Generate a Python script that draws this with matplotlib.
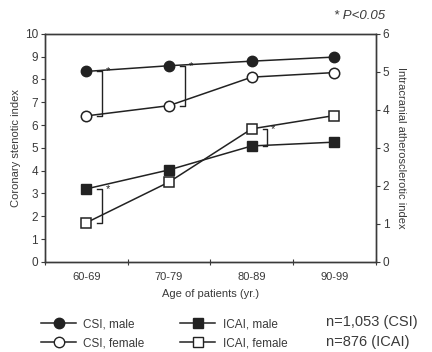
import matplotlib.pyplot as plt
from matplotlib.lines import Line2D

plt.rcParams['font.family'] = ['Liberation Sans', 'DejaVu Sans']

grupos = ['60-69', '70-79', '80-89', '90-99']
csi_hombre = [8.35, 8.6, 8.8, 8.98]
csi_mujer = [6.4, 6.85, 8.1, 8.3]
icai_hombre = [1.92, 2.42, 3.05, 3.15]
icai_mujer = [1.03, 2.1, 3.5, 3.85]

gris = '#3a3a3a'
linea = '#222222'

fig = plt.figure(figsize=(4.32, 3.52), dpi=100)
ax = fig.add_axes([0.104, 0.256, 0.766, 0.648])
ax2 = ax.twinx()

x = list(range(len(grupos)))

ax.plot(x, csi_hombre, '-o', color=linea, mfc=linea, mec=linea, ms=7.5, lw=1.1)
ax.plot(x, csi_mujer, '-o', color=linea, mfc='white', mec=linea, ms=7.5, lw=1.1, mew=1.1)
ax2.plot(x, icai_hombre, '-s', color=linea, mfc=linea, mec=linea, ms=7, lw=1.1)
ax2.plot(x, icai_mujer, '-s', color=linea, mfc='white', mec=linea, ms=7, lw=1.1, mew=1.1)

ax.set_xlim(-0.5, 3.5)
ax.set_ylim(0, 10)
ax2.set_ylim(0, 6)
ax.set_yticks(range(0, 11))
ax2.set_yticks(range(0, 7))

# ticks at category boundaries, labels at centers
ax.set_xticks([-0.5, 0.5, 1.5, 2.5, 3.5])
ax.set_xticklabels([])
ax.set_xticks(x, minor=True)
ax.set_xticklabels(grupos, minor=True)
ax.tick_params(axis='x', which='minor', length=0, pad=7)
ax.tick_params(axis='x', which='major', length=4, direction='inout', color=gris)

for a in (ax, ax2):
    a.tick_params(axis='y', length=3, direction='out', colors=gris, labelsize=8.5, pad=2)
    for s in a.spines.values():
        s.set_color(gris)
        s.set_linewidth(1.0)
ax.tick_params(axis='x', which='both', labelsize=8, colors=gris)

ax.set_xlabel('Age of patients (yr.)', fontsize=8, color=gris, labelpad=5)
ax.set_ylabel('Coronary stenotic index', fontsize=8, color=gris, labelpad=3)
ax2.set_ylabel('Intracranial atherosclerotic index', fontsize=8, color=gris,
               rotation=-90, labelpad=12)


def corchete(a, xi, y1, y2, dx=0.19, ancho=0.06):
    xb = xi + dx
    a.plot([xb - ancho, xb, xb, xb - ancho], [y1, y1, y2, y2], color=linea, lw=1.0)
    a.text(xb + 0.07, y1, '*', fontsize=8, color=linea, ha='center', va='center')


corchete(ax, 0, csi_hombre[0], csi_mujer[0])
corchete(ax, 1, csi_hombre[1], csi_mujer[1])
corchete(ax2, 0, icai_hombre[0], icai_mujer[0])
corchete(ax2, 2, icai_mujer[2], icai_hombre[2])

fig.text(0.892, 0.945, '* P<0.05', fontsize=9.5, style='italic', color=gris, ha='right')

manejadores = [
    Line2D([], [], color=linea, marker='o', mfc=linea, ms=7.5, lw=1.1),
    Line2D([], [], color=linea, marker='o', mfc='white', ms=7.5, lw=1.1),
    Line2D([], [], color=linea, marker='s', mfc=linea, ms=7, lw=1.1),
    Line2D([], [], color=linea, marker='s', mfc='white', ms=7, lw=1.1),
]
etiquetas = ['CSI, male', 'CSI, female', 'ICAI, male', 'ICAI, female']
fig.legend(manejadores, etiquetas, ncol=2, loc='lower left', bbox_to_anchor=(0.07, -0.022),
           frameon=False, fontsize=8.5, handlelength=3.0, columnspacing=3.0,
           labelspacing=0.6, handletextpad=0.6, labelcolor=gris)

fig.text(0.755, 0.075, 'n=1,053 (CSI)', fontsize=10.5, color=gris, ha='left')
fig.text(0.755, 0.018, 'n=876 (ICAI)', fontsize=10.5, color=gris, ha='left')

plt.savefig('out.png', dpi=100)
